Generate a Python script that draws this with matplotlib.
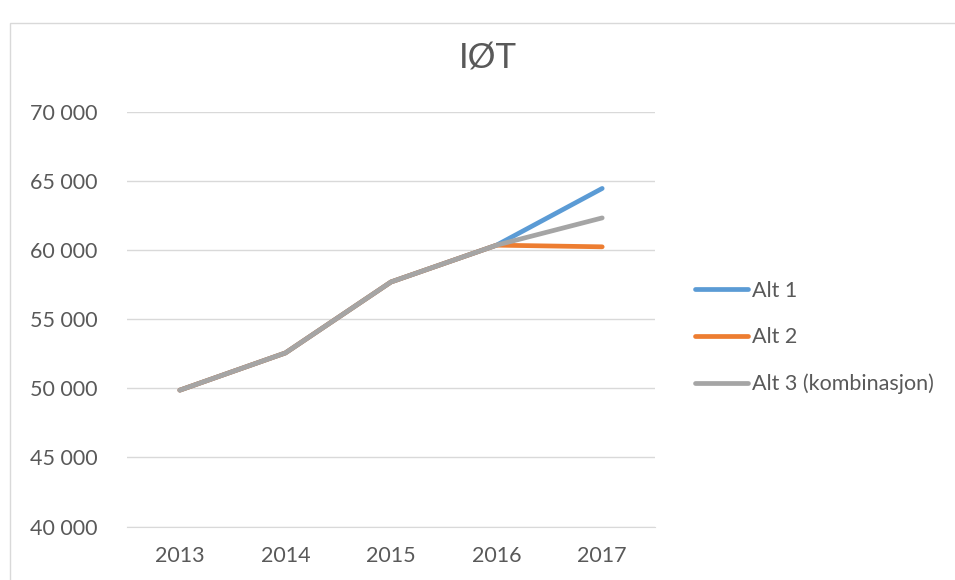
import matplotlib
matplotlib.use("Agg")
import matplotlib.pyplot as plt
from matplotlib.patches import Rectangle
from matplotlib.ticker import FuncFormatter

years = ["2013", "2014", "2015", "2016", "2017"]
alt1 = [49860, 52550, 57680, 60340, 64440]
alt2 = [49860, 52550, 57680, 60340, 60220]
alt3 = [49860, 52550, 57680, 60340, 62310]
labels = ["Alt 1", "Alt 2", "Alt 3 (kombinasjon)"]
colors = ["#5B9BD5", "#ED7D31", "#A5A5A5"]
title = "IØT"

plt.rcParams['font.family'] = ['Lato', 'DejaVu Sans']
txt = "#595959"
fs = 15.5

fig = plt.figure(figsize=(9.55, 5.8), dpi=100)
fig.patches.append(Rectangle((9.5/955, -0.01), 1.0, 1 - 22.5/580 + 0.01,
                             transform=fig.transFigure, fill=False,
                             edgecolor="#D9D9D9", lw=1.0))
ax = fig.add_axes([127/955, 1 - 526.6/580, (655 - 127)/955, (526.6 - 111.5)/580])

x = list(range(len(years)))
for vals, lab, c in zip([alt1, alt2, alt3], labels, colors):
    ax.plot(x, vals, color=c, lw=3.4, label=lab, solid_capstyle='round',
            solid_joinstyle='round')

ax.set_xlim(-0.5, len(years) - 0.5)
ax.set_ylim(40000, 70000)
ax.set_yticks(range(40000, 70001, 5000))
ax.yaxis.set_major_formatter(FuncFormatter(lambda v, p: f"{int(v):,}".replace(",", " ")))
ax.set_xticks(x)
ax.set_xticklabels(years)
ax.grid(axis='y', color="#D9D9D9", lw=1.0)
ax.set_axisbelow(True)
for s in ["top", "right", "left"]:
    ax.spines[s].set_visible(False)
ax.spines["bottom"].set_color("#D9D9D9")
ax.tick_params(axis='both', length=0, labelsize=fs, colors=txt)
ax.tick_params(axis='y', pad=21)
ax.tick_params(axis='x', pad=14)

fig.text(488/955, 1 - 58/580, title, ha='center', va='center', fontsize=25, color=txt)

fig.legend(loc='center left', bbox_to_anchor=(695/955, 1 - 337.5/580), frameon=False,
           fontsize=fs, handlelength=2.47, handletextpad=0.19, labelspacing=1.24,
           labelcolor=txt, borderaxespad=0, borderpad=0)

fig.savefig("out.png", dpi=100)
